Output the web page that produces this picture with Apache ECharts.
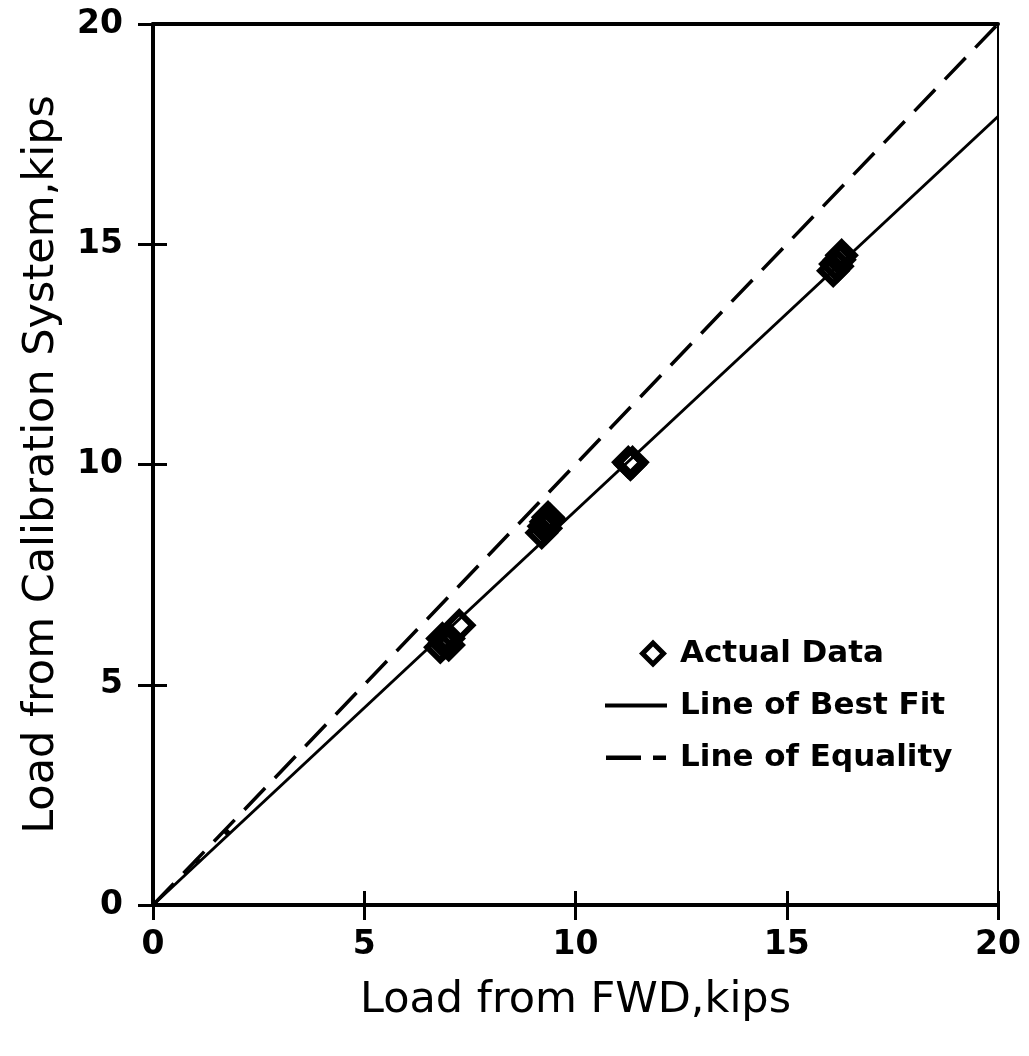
<!DOCTYPE html>
<html>
<head>
<meta charset="utf-8">
<script src="https://cdn.jsdelivr.net/npm/echarts@6/dist/echarts.min.js"></script>
<style>
  html, body { margin: 0; padding: 0; background: #fff; }
  #chart { width: 1029px; height: 1056px; }
</style>
</head>
<body>
<div id="chart"></div>
<script>
// load from FWD (x) vs load from calibration system (y), kips
const actualData = [
  [6.8, 5.85], [6.9, 5.95], [7.0, 6.05], [6.85, 6.05], [7.0, 5.9], [7.25, 6.35],
  [9.2, 8.45], [9.25, 8.6], [9.3, 8.7], [9.35, 8.8], [9.4, 8.75], [9.3, 8.55],
  [11.3, 10.0], [11.35, 10.05], [11.25, 10.05],
  [16.1, 14.4], [16.15, 14.55], [16.25, 14.65], [16.3, 14.75], [16.2, 14.5]
]
const smallMarks = [[1.05, 1.0], [1.75, 1.65]]
const bestFit = [[0, 0], [20, 17.9]]
const equality = [[0, 0], [20, 20]]

const FONT = 'DejaVu Sans'
const chart = echarts.init(document.getElementById('chart'))

const tickLabel = { fontFamily: FONT, fontWeight: 'bold', fontSize: 33, color: '#000' }
const outTick = () => ({ show: true, length: 15, lineStyle: { color: '#000', width: 3 } })
const clearLine = () => ({ show: true, onZero: false, lineStyle: { color: 'rgba(0,0,0,0)', width: 0 } })
const off = () => ({ show: false })

// legend icons drawn as paths (tiny corner points keep the box size)
const iconDiamond = 'path://M0,0L0.01,0Z M0,28L0.01,28Z M48,0L62,14L48,28L34,14Z M48,7L41,14L48,21L55,14Z'
const iconSolid = 'path://M0,0L0.01,0Z M0,28L0.01,28Z M0,12h62v4h-62Z'
const iconDashed = 'path://M0,0L0.01,0Z M0,28L0.01,28Z M0,12h35v4.5h-35Z M47,12h13v4.5h-13Z'
const legendItem = (name, icon) => ({
  name, icon,
  itemStyle: { color: '#000', borderWidth: 0, opacity: 1 },
  lineStyle: { width: 0 }
})

chart.setOption({
  backgroundColor: '#fff',
  animation: false,
  grid: { left: 153, right: 31, top: 24, bottom: 151 },
  legend: {
    orient: 'vertical',
    left: 600,
    top: 631,
    itemWidth: 62,
    itemHeight: 28,
    itemGap: 17,
    data: [
      legendItem('Actual Data', iconDiamond),
      legendItem('Line of Best Fit', iconSolid),
      legendItem('Line of Equality', iconDashed)
    ],
    textStyle: { fontFamily: FONT, fontWeight: 'bold', fontSize: 31, lineHeight: 35, color: '#000', padding: [0, 0, 0, 8] }
  },
  xAxis: [
    {
      type: 'value', min: 0, max: 20, interval: 5, position: 'bottom',
      name: 'Load from FWD,kips', nameLocation: 'middle', nameGap: 74,
      nameTextStyle: { fontFamily: FONT, fontSize: 43, color: '#000' },
      axisLine: { onZero: false, lineStyle: { color: '#000', width: 4 } },
      axisTick: outTick(),
      axisLabel: Object.assign({ margin: 24 }, tickLabel),
      splitLine: off()
    },
    {
      // shifted into the plot so its ticks make the inner half of the cross
      type: 'value', min: 0, max: 20, interval: 5, position: 'bottom', offset: -14,
      axisLine: clearLine(), axisTick: outTick(),
      axisLabel: off(), splitLine: off()
    },
    {
      type: 'value', min: 0, max: 20, position: 'top',
      axisLine: { onZero: false, lineStyle: { color: '#000', width: 4 } },
      axisTick: off(), axisLabel: off(), splitLine: off()
    }
  ],
  yAxis: [
    {
      type: 'value', min: 0, max: 20, interval: 5, position: 'left',
      name: 'Load from Calibration System,kips', nameLocation: 'middle', nameGap: 90,
      nameTextStyle: { fontFamily: FONT, fontSize: 43, color: '#000' },
      axisLine: { onZero: false, lineStyle: { color: '#000', width: 4 } },
      axisTick: outTick(),
      axisLabel: Object.assign({ margin: 30 }, tickLabel),
      splitLine: off()
    },
    {
      type: 'value', min: 0, max: 20, interval: 5, position: 'left', offset: -14,
      axisLine: clearLine(), axisTick: outTick(),
      axisLabel: off(), splitLine: off()
    },
    {
      type: 'value', min: 0, max: 20, position: 'right',
      axisLine: { onZero: false, lineStyle: { color: '#000', width: 2 } },
      axisTick: off(), axisLabel: off(), splitLine: off()
    }
  ],
  series: [
    {
      name: 'Line of Best Fit',
      type: 'line',
      data: bestFit,
      symbol: 'none',
      lineStyle: { color: '#000', width: 3 },
      itemStyle: { color: '#000' },
      z: 2
    },
    {
      name: 'Line of Equality',
      type: 'line',
      data: equality,
      symbol: 'none',
      lineStyle: { color: '#000', width: 3.5, type: [30, 14] },
      itemStyle: { color: '#000' },
      z: 2
    },
    {
      name: 'Actual Data',
      type: 'scatter',
      data: actualData,
      symbol: 'diamond',
      symbolSize: 26,
      itemStyle: { color: 'rgba(255,255,255,0)', borderColor: '#000', borderWidth: 6, opacity: 1 },
      z: 3
    },
    {
      name: 'small',
      type: 'scatter',
      data: smallMarks,
      symbol: 'diamond',
      symbolSize: 8,
      itemStyle: { color: '#000', opacity: 1 },
      z: 3
    }
  ]
})
</script>
</body>
</html>
